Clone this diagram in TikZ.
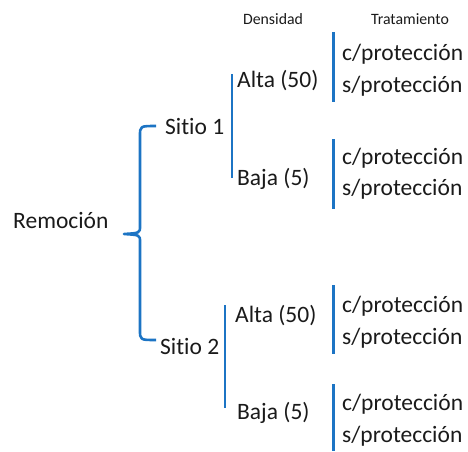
\documentclass[tikz,border=0pt]{standalone}
\usepackage{fontspec}
\setmainfont[Ligatures={NoCommon}]{Carlito}
\definecolor{bracketblue}{HTML}{1C74C4}
\definecolor{txt}{HTML}{1A1A1A}
\begin{document}
\begin{tikzpicture}[x=1pt,y=-1pt,
  lbl/.style={anchor=west,inner sep=0pt,font=\fontsize{23.5}{26}\selectfont,text=txt},
  hdr/.style={inner sep=0pt,font=\fontsize{15.8}{18}\selectfont,text=txt},
  bar/.style={draw=bracketblue,line width=3pt},
  brace/.style={draw=bracketblue,line width=2.6pt,line join=round}]
\useasboundingbox (0,0) rectangle (468,451);

% column headings
\node[hdr] (hdens) at (273,19) {Densidad};
\node[hdr] (htrat) at (410,19) {Tratamiento};

% root and the main brace
\node[lbl] (rem) at (13,220) {Remoción};
\coordinate (tip) at (124,234);
\coordinate (btop) at (156,126);
\coordinate (bbot) at (156,340);
\draw[brace] (btop) .. controls (140,126) .. (140,136) -- (140,226)
  .. controls (140,233) .. (tip) .. controls (140,235) .. (140,242)
  -- (140,330) .. controls (140,340) .. (bbot);

% sites
\node[lbl] (s1) at (165,126) {Sitio 1};
\node[lbl] (s2) at (160,346) {Sitio 2};

% density brackets
\coordinate (d1a) at (232,74);  \coordinate (d1b) at (232,178);
\coordinate (d2a) at (225,305); \coordinate (d2b) at (225,408);
\draw[bar,line width=2.6pt] (d1a) -- (d1b);
\draw[bar,line width=2.6pt] (d2a) -- (d2b);
\node[lbl] (a1) at (237,81)  {Alta (50)};
\node[lbl] (b1) at (237,179) {Baja (5)};
\node[lbl] (a2) at (235,316) {Alta (50)};
\node[lbl] (b2) at (237,413) {Baja (5)};

% treatment brackets
\coordinate (t1a) at (333,32);  \coordinate (t1b) at (333,102);
\coordinate (t2a) at (333,139); \coordinate (t2b) at (333,209);
\coordinate (t3a) at (333,285); \coordinate (t3b) at (333,354);
\coordinate (t4a) at (333,384); \coordinate (t4b) at (333,451);
\draw[bar] (t1a) -- (t1b);
\draw[bar] (t2a) -- (t2b);
\draw[bar] (t3a) -- (t3b);
\draw[bar] (t4a) -- (t4b);

\node[lbl] (c1) at (342,54)  {c/protección};
\node[lbl] (n1) at (342,86)  {s/protección};
\node[lbl] (c2) at (342,158) {c/protección};
\node[lbl] (n2) at (342,189) {s/protección};
\node[lbl] (c3) at (342,306) {c/protección};
\node[lbl] (n3) at (342,338) {s/protección};
\node[lbl] (c4) at (342,404) {c/protección};
\node[lbl] (n4) at (342,436) {s/protección};
\end{tikzpicture}
\end{document}
